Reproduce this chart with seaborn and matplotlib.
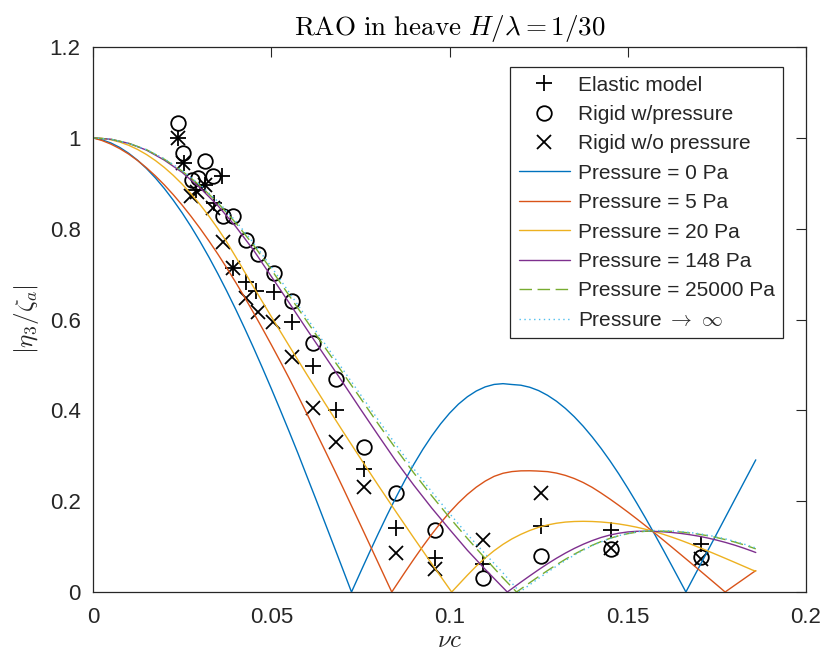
import matplotlib
matplotlib.use("Agg")
import matplotlib.pyplot as plt
import seaborn as sns

# ---- measured points (|eta3/zeta_a| vs nu*c) ----
elastic_x = [0.0239, 0.0254, 0.0290, 0.0315, 0.0340, 0.0363, 0.0394, 0.0429, 0.0456,
             0.0508, 0.0557, 0.0618, 0.0682, 0.0761, 0.0850, 0.0959, 0.1093, 0.1257,
             0.1454, 0.1706]
elastic_y = [0.999, 0.944, 0.885, 0.897, 0.857, 0.916, 0.713, 0.683, 0.662,
             0.660, 0.595, 0.498, 0.401, 0.270, 0.141, 0.075, 0.062, 0.146,
             0.137, 0.105]

rigid_p_x = [0.0238, 0.0253, 0.0278, 0.0295, 0.0313, 0.0337, 0.0365, 0.0393, 0.0429,
             0.0464, 0.0509, 0.0557, 0.0618, 0.0682, 0.0761, 0.0850, 0.0959, 0.1093,
             0.1257, 0.1454, 0.1706]
rigid_p_y = [1.033, 0.967, 0.907, 0.911, 0.950, 0.915, 0.828, 0.828, 0.775,
             0.744, 0.702, 0.640, 0.549, 0.468, 0.320, 0.219, 0.137, 0.030,
             0.079, 0.094, 0.078]

rigid_np_x = [0.0238, 0.0253, 0.0276, 0.0292, 0.0313, 0.0337, 0.0365, 0.0394, 0.0428,
              0.0463, 0.0506, 0.0557, 0.0618, 0.0682, 0.0761, 0.0850, 0.0959, 0.1093,
              0.1257, 0.1454, 0.1706]
rigid_np_y = [0.999, 0.944, 0.871, 0.880, 0.896, 0.845, 0.770, 0.713, 0.647,
              0.617, 0.595, 0.518, 0.405, 0.331, 0.231, 0.087, 0.050, 0.115,
              0.219, 0.096, 0.072]

# ---- model curves ----
p0_x = [0, 0.0025, 0.005, 0.0075, 0.01, 0.0125, 0.015, 0.0175, 0.02, 0.0225, 0.025,
        0.0275, 0.03, 0.0325, 0.035, 0.0375, 0.04, 0.0425, 0.045, 0.0475, 0.05, 0.0525,
        0.055, 0.0575, 0.06, 0.0625, 0.065, 0.0675, 0.07, 0.0725,
        0.075, 0.0775, 0.08, 0.0825, 0.085, 0.0875, 0.09, 0.0925, 0.095, 0.0975, 0.10,
        0.1025, 0.105, 0.1075, 0.11, 0.1125, 0.115, 0.1174, 0.12, 0.1225, 0.125, 0.1275,
        0.13, 0.1325, 0.135, 0.1375, 0.14, 0.1425, 0.145, 0.1475, 0.15, 0.1525, 0.155,
        0.1575, 0.16, 0.1625, 0.165, 0.1663, 0.17, 0.175, 0.18, 0.1859]
p0_y = [1.0, 0.9958, 0.9888, 0.9789, 0.9661, 0.9507, 0.9325, 0.9118, 0.8885, 0.8628,
        0.8348, 0.8045, 0.7720, 0.7375, 0.7010, 0.6628, 0.6228, 0.5812, 0.5382, 0.4937,
        0.4480, 0.4012, 0.3536, 0.3050, 0.2546, 0.2045, 0.1536, 0.1026, 0.0514, 0.0,
        0.0434, 0.0864, 0.1285, 0.1695, 0.2088, 0.2462, 0.2814, 0.3140, 0.3436, 0.3703,
        0.3937, 0.4137, 0.4299, 0.4426, 0.4517, 0.4571, 0.4588, 0.457, 0.4554, 0.4509,
        0.4435, 0.4331, 0.4201, 0.4043, 0.3859, 0.3650, 0.3417, 0.3164, 0.2890, 0.2598,
        0.2286, 0.1961, 0.1625, 0.1276, 0.0920, 0.0557, 0.0191, 0.0, 0.055, 0.129,
        0.2035, 0.291]

p5_x = [0, 0.0025, 0.005, 0.0075, 0.01, 0.0125, 0.015, 0.0175, 0.02, 0.0225, 0.025,
        0.0275, 0.03, 0.0325, 0.035, 0.0375, 0.04, 0.0425, 0.045, 0.0475, 0.05, 0.0525,
        0.055, 0.0575, 0.06, 0.0625, 0.065, 0.0675, 0.07, 0.0725, 0.075, 0.0775, 0.08,
        0.0825, 0.0838, 0.085, 0.0875, 0.09, 0.0925, 0.095, 0.0975, 0.10, 0.1025, 0.105,
        0.1075, 0.11, 0.1125, 0.115, 0.1175, 0.12, 0.1225, 0.1244, 0.1275, 0.13, 0.1325,
        0.135, 0.1375, 0.14, 0.1425, 0.145, 0.1475, 0.15, 0.1525, 0.155, 0.1575, 0.16,
        0.1625, 0.165, 0.1675, 0.17, 0.1725, 0.175, 0.1773, 0.18, 0.1825, 0.185, 0.1859]
p5_y = [1.0, 0.9942, 0.9863, 0.9763, 0.9643, 0.9501, 0.9341, 0.9162, 0.8965, 0.8750,
        0.8519, 0.8271, 0.8009, 0.7732, 0.7442, 0.7137, 0.6820, 0.6493, 0.6152, 0.5804,
        0.5446, 0.5081, 0.4707, 0.4321, 0.3925, 0.3528, 0.3127, 0.2722, 0.2313, 0.1897,
        0.1481, 0.1061, 0.0640, 0.0218, 0.0, 0.0142, 0.0437, 0.0725, 0.1005, 0.1271,
        0.1522, 0.1753, 0.1963, 0.2149, 0.2309, 0.2442, 0.2547, 0.2615, 0.2652, 0.2668,
        0.2670, 0.2665, 0.2651, 0.2619, 0.2568, 0.2499, 0.2411, 0.2305, 0.2180, 0.2047,
        0.1907, 0.1762, 0.1612, 0.1458, 0.1301, 0.1141, 0.0979, 0.0816, 0.0652, 0.0487,
        0.0321, 0.0155, 0.0, 0.0149, 0.0286, 0.0424, 0.047]

p20_x = [0, 0.0025, 0.005, 0.0075, 0.01, 0.0125, 0.015, 0.0175, 0.02, 0.0225, 0.025,
         0.0275, 0.03, 0.0325, 0.035, 0.0375, 0.04, 0.045, 0.05, 0.055, 0.06, 0.065,
         0.07, 0.075, 0.08, 0.085, 0.09, 0.095, 0.1006, 0.1025, 0.105, 0.1075, 0.11,
         0.1125, 0.115, 0.1175, 0.12, 0.1225, 0.125, 0.1275, 0.13, 0.1325, 0.135,
         0.1375, 0.14, 0.1425, 0.145, 0.1475, 0.15, 0.1525, 0.155, 0.1575, 0.16,
         0.1625, 0.165, 0.1675, 0.17, 0.1725, 0.175, 0.1775, 0.18, 0.1825, 0.185, 0.1859]
p20_y = [1.0, 0.999, 0.9959, 0.9908, 0.9837, 0.9745, 0.9633, 0.9501, 0.9348, 0.9175,
         0.8981, 0.8767, 0.8533, 0.8278, 0.8003, 0.7708, 0.7383, 0.6719, 0.6065, 0.5421,
         0.4787, 0.4163, 0.3548, 0.2944, 0.2349, 0.1764, 0.1189, 0.0624, 0.0, 0.016,
         0.037, 0.057, 0.075, 0.091, 0.105, 0.117, 0.127, 0.1355, 0.1425, 0.1477, 0.1515,
         0.154, 0.1553, 0.1557, 0.1553, 0.1542, 0.1524, 0.1498, 0.1466, 0.1427, 0.1381,
         0.1329, 0.1270, 0.1205, 0.1135, 0.1060, 0.0982, 0.0902, 0.082, 0.0737, 0.0653,
         0.0568, 0.0483, 0.046]

p148_x = [0, 0.005, 0.01, 0.015, 0.02, 0.025, 0.03, 0.035, 0.04, 0.045, 0.05, 0.055,
          0.06, 0.065, 0.07, 0.075, 0.08, 0.085, 0.09, 0.095, 0.10, 0.105, 0.11,
          0.1162, 0.1175, 0.12, 0.1225, 0.125, 0.1275, 0.13, 0.1325, 0.135, 0.1375,
          0.14, 0.1425, 0.145, 0.1475, 0.15, 0.1525, 0.155, 0.1575, 0.16, 0.1625,
          0.165, 0.1675, 0.17, 0.1725, 0.175, 0.1775, 0.18, 0.1825, 0.185, 0.1859]
p148_y = [1.0, 0.997, 0.988, 0.973, 0.951, 0.924, 0.89, 0.851, 0.805, 0.753, 0.695, 0.637,
          0.578, 0.52, 0.462, 0.403, 0.345, 0.288, 0.235, 0.185, 0.138, 0.092, 0.05,
          0.0, 0.0074, 0.0217, 0.0356, 0.0492, 0.0622, 0.0744, 0.0857, 0.0960, 0.1052,
          0.1132, 0.1201, 0.1255, 0.1295, 0.1323, 0.1337, 0.1338, 0.1335, 0.1326, 0.1310,
          0.1289, 0.1261, 0.1228, 0.1188, 0.1142, 0.1090, 0.1032, 0.0967, 0.0897, 0.087]

p25k_x = [0, 0.005, 0.01, 0.015, 0.02, 0.025, 0.03, 0.035, 0.04, 0.045, 0.05, 0.055,
          0.06, 0.065, 0.07, 0.075, 0.08, 0.085, 0.09, 0.095, 0.10, 0.105, 0.11,
          0.115, 0.1188, 0.12, 0.1225, 0.125, 0.1275, 0.13, 0.1325, 0.135, 0.1375,
          0.14, 0.1425, 0.145, 0.1475, 0.15, 0.1525, 0.155, 0.1575, 0.16, 0.1625,
          0.165, 0.1675, 0.17, 0.1725, 0.175, 0.1775, 0.18, 0.1825, 0.185, 0.1859]
p25k_y = [1.0, 0.997, 0.988, 0.974, 0.953, 0.927, 0.895, 0.857, 0.813, 0.764, 0.71, 0.653,
          0.596, 0.539, 0.483, 0.427, 0.37, 0.315, 0.262, 0.212, 0.164, 0.118, 0.074,
          0.031, 0.0, 0.0067, 0.0205, 0.0341, 0.0473, 0.0600, 0.0721, 0.0833, 0.0935,
          0.1029, 0.1111, 0.1182, 0.1240, 0.1285, 0.1318, 0.1338, 0.1345, 0.134, 0.1335,
          0.1320, 0.1299, 0.1272, 0.1238, 0.1198, 0.1152, 0.1100, 0.1041, 0.0975, 0.095]

pinf_x = [0, 0.005, 0.01, 0.015, 0.02, 0.025, 0.03, 0.035, 0.04, 0.045, 0.05, 0.055,
          0.06, 0.065, 0.07, 0.075, 0.08, 0.085, 0.09, 0.095, 0.10, 0.105, 0.11,
          0.115, 0.1197, 0.1225, 0.125, 0.1275, 0.13, 0.1325, 0.135, 0.1375, 0.14,
          0.1425, 0.145, 0.1475, 0.15, 0.1525, 0.155, 0.1575, 0.16, 0.1625, 0.165,
          0.1675, 0.17, 0.1725, 0.175, 0.1775, 0.18, 0.1825, 0.185, 0.1859]
pinf_y = [1.0, 0.997, 0.988, 0.974, 0.954, 0.928, 0.897, 0.86, 0.817, 0.769, 0.716, 0.66,
          0.603, 0.547, 0.491, 0.435, 0.379, 0.324, 0.271, 0.221, 0.173, 0.127, 0.084,
          0.042, 0.0, 0.016, 0.030, 0.0437, 0.0570, 0.0695, 0.0813, 0.0921, 0.1019,
          0.1105, 0.1179, 0.1241, 0.1290, 0.1325, 0.1347, 0.1355, 0.135, 0.1345, 0.1331,
          0.131, 0.1284, 0.1251, 0.1212, 0.1167, 0.1115, 0.1058, 0.0994, 0.097]

x_ticks = [0, 0.05, 0.1, 0.15, 0.2]
x_ticklabels = ["0", "0.05", "0.1", "0.15", "0.2"]
y_ticks = [0, 0.2, 0.4, 0.6, 0.8, 1.0, 1.2]
y_ticklabels = ["0", "0.2", "0.4", "0.6", "0.8", "1", "1.2"]

sns.set_style("white")
plt.rcParams["font.family"] = ["Liberation Sans", "DejaVu Sans"]
plt.rcParams["mathtext.fontset"] = "cm"

INK = "#262626"

fig = plt.figure(figsize=(8.24, 6.57), dpi=100)
ax = fig.add_axes([0.1129, 0.0989, 0.8653, 0.8295])

# experiment markers
mk = dict(color="black", linestyle="none", ax=ax, sort=False, estimator=None,
          markeredgecolor="black", markeredgewidth=1.3)
sns.lineplot(x=elastic_x, y=elastic_y, marker="+", markersize=12,
             label="Elastic model", **mk)
sns.lineplot(x=rigid_p_x, y=rigid_p_y, marker="o", markersize=10.5,
             markerfacecolor="none", label="Rigid w/pressure", **mk)
sns.lineplot(x=rigid_np_x, y=rigid_np_y, marker="x", markersize=10,
             label="Rigid w/o pressure", **mk)

# numerical curves
cv = dict(ax=ax, sort=False, estimator=None, linewidth=1.0)
sns.lineplot(x=p0_x, y=p0_y, color="#0072BD", label="Pressure = 0 Pa", **cv)
sns.lineplot(x=p5_x, y=p5_y, color="#D95319", label="Pressure = 5 Pa", **cv)
sns.lineplot(x=p20_x, y=p20_y, color="#EDB120", label="Pressure = 20 Pa", **cv)
sns.lineplot(x=p148_x, y=p148_y, color="#7E2F8E", label="Pressure = 148 Pa", **cv)
sns.lineplot(x=p25k_x, y=p25k_y, color="#77AC30", linestyle=(0, (9, 4)),
             label="Pressure = 25000 Pa", **cv)
sns.lineplot(x=pinf_x, y=pinf_y, color="#4DBEEE", linestyle=(0, (1, 2.5)),
             label=r"Pressure $\rightarrow\ \infty$", **cv)

ax.set_xlim(0, 0.2)
ax.set_ylim(0, 1.2)
ax.set_xticks(x_ticks)
ax.set_xticklabels(x_ticklabels)
ax.set_yticks(y_ticks)
ax.set_yticklabels(y_ticklabels)
ax.tick_params(axis="both", direction="in", length=7, width=0.8, colors=INK,
               labelsize=16, top=True, right=True)
ax.tick_params(axis="x", pad=11)
ax.tick_params(axis="y", pad=9)
for s in ax.spines.values():
    s.set_color(INK)
    s.set_linewidth(0.9)

ax.set_title(r"$\mathrm{RAO\ in\ heave}\ H/\lambda=1/30$", fontsize=19.5, color="black", pad=9)
ax.set_xlabel(r"$\nu c$", fontsize=18, color=INK, labelpad=0)
ax.set_ylabel(r"$|\eta_3/\zeta_a|$", fontsize=18, color=INK, labelpad=6)

leg = ax.legend(loc="upper right", bbox_to_anchor=(0.968, 0.963), fontsize=15,
                frameon=True, fancybox=False, edgecolor=INK, framealpha=1,
                handlelength=2.45, handletextpad=0.4, labelspacing=0.5,
                borderpad=0.4, borderaxespad=0)
leg.get_frame().set_linewidth(0.9)

fig.savefig("out.png", dpi=100)
